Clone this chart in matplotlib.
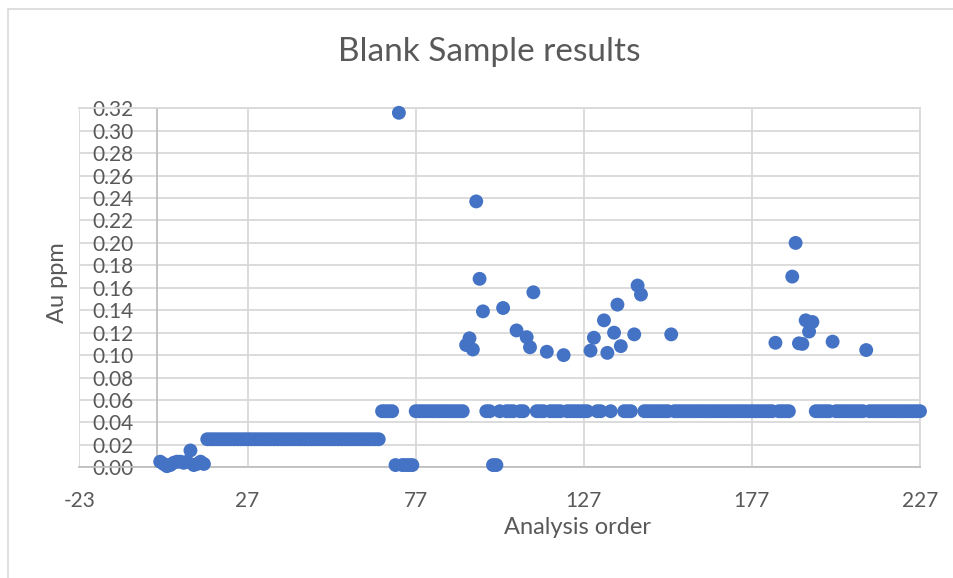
import matplotlib

matplotlib.use("Agg")
import matplotlib.pyplot as plt
import numpy as np
from matplotlib.patches import Rectangle

# Au assays of the blank inserts, in the order they were analysed (1..227)
au_ppm = [
    0.005, 0.003, 0.001, 0.002, 0.004, 0.005, 0.005, 0.004, 0.005, 0.015,   # 1-10
    0.002, 0.003, 0.005, 0.003, 0.025, 0.025, 0.025, 0.025, 0.025, 0.025,   # 11-20
    0.025, 0.025, 0.025, 0.025, 0.025, 0.025, 0.025, 0.025, 0.025, 0.025,   # 21-30
    0.025, 0.025, 0.025, 0.025, 0.025, 0.025, 0.025, 0.025, 0.025, 0.025,   # 31-40
    0.025, 0.025, 0.025, 0.025, 0.025, 0.025, 0.025, 0.025, 0.025, 0.025,   # 41-50
    0.025, 0.025, 0.025, 0.025, 0.025, 0.025, 0.025, 0.025, 0.025, 0.025,   # 51-60
    0.025, 0.025, 0.025, 0.025, 0.025, 0.025, 0.05, 0.05, 0.05, 0.05,       # 61-70
    0.002, 0.316, 0.002, 0.002, 0.002, 0.002, 0.05, 0.05, 0.05, 0.05,       # 71-80
    0.05, 0.05, 0.05, 0.05, 0.05, 0.05, 0.05, 0.05, 0.05, 0.05,             # 81-90
    0.05, 0.109, 0.115, 0.105, 0.237, 0.168, 0.139, 0.05, 0.05, 0.002,      # 91-100
    0.002, 0.05, 0.142, 0.05, 0.05, 0.05, 0.122, 0.05, 0.05, 0.116,         # 101-110
    0.107, 0.156, 0.05, 0.05, 0.05, 0.103, 0.05, 0.05, 0.05, 0.05,          # 111-120
    0.100, 0.05, 0.05, 0.05, 0.05, 0.05, 0.05, 0.05, 0.104, 0.1155,         # 121-130
    0.05, 0.05, 0.131, 0.102, 0.05, 0.120, 0.145, 0.108, 0.05, 0.05,        # 131-140
    0.05, 0.1185, 0.162, 0.154, 0.05, 0.05, 0.05, 0.05, 0.05, 0.05,         # 141-150
    0.05, 0.05, 0.1185, 0.05, 0.05, 0.05, 0.05, 0.05, 0.05, 0.05,           # 151-160
    0.05, 0.05, 0.05, 0.05, 0.05, 0.05, 0.05, 0.05, 0.05, 0.05,             # 161-170
    0.05, 0.05, 0.05, 0.05, 0.05, 0.05, 0.05, 0.05, 0.05, 0.05,             # 171-180
    0.05, 0.05, 0.05, 0.111, 0.05, 0.05, 0.05, 0.05, 0.170, 0.200,          # 181-190
    0.1105, 0.110, 0.131, 0.121, 0.1295, 0.05, 0.05, 0.05, 0.05, 0.05,      # 191-200
    0.112, 0.05, 0.05, 0.05, 0.05, 0.05, 0.05, 0.05, 0.05, 0.05,            # 201-210
    0.1045, 0.05, 0.05, 0.05, 0.05, 0.05, 0.05, 0.05, 0.05, 0.05,           # 211-220
    0.05, 0.05, 0.05, 0.05, 0.05, 0.05, 0.05,                               # 221-227
]
analysis_order = np.arange(1, len(au_ppm) + 1)

x_ticks = [-23, 27, 77, 127, 177, 227]
y_ticks = np.round(np.arange(0, 0.3201, 0.02), 2)

TEXT = "#595959"
GRID = "#D9D9D9"
AXIS = "#BFBFBF"
BLUE = "#4472C4"

plt.rcParams["font.family"] = ["Lato", "DejaVu Sans"]
plt.rcParams["axes.unicode_minus"] = False

fig = plt.figure(figsize=(9.54, 5.78), dpi=100)
# chart frame
fig.patches.append(Rectangle((8 / 954, -0.1), 1.2, 1 - 9 / 578 + 0.1,
                             transform=fig.transFigure, fill=False,
                             edgecolor=GRID, linewidth=1.2))

ax = fig.add_axes([79.5 / 954, 1 - 467.3 / 578, 840.5 / 954, 359 / 578])
ax.scatter(analysis_order, au_ppm, s=100, color=BLUE, edgecolors="none",
           zorder=3, clip_on=False)

ax.set_xlim(-23, 227)
ax.set_ylim(0, 0.32)
ax.set_xticks(x_ticks)
ax.set_yticks(y_ticks, [f"{v:.2f}" for v in y_ticks])
ax.grid(True, color=GRID, linewidth=1.3, zorder=0)
ax.set_axisbelow(True)

# vertical axis crosses at x = 0
ax.spines["left"].set_position(("data", 0))
ax.spines["left"].set_color(AXIS)
ax.spines["bottom"].set_color(AXIS)
for side in ("top", "right"):
    ax.spines[side].set_color(GRID)
for sp in ax.spines.values():
    sp.set_linewidth(1.3)
ax.tick_params(axis="both", length=0, labelsize=15, labelcolor=TEXT)
ax.tick_params(axis="y", pad=17)
ax.tick_params(axis="x", pad=17)

fig.text(489 / 954, 1 - 52 / 578, "Blank Sample results", ha="center",
         va="center", fontsize=24, color=TEXT)
fig.text(578 / 954, 1 - 528 / 578, "Analysis order", ha="center",
         va="center", fontsize=17, color=TEXT)
fig.text(58 / 954, 1 - 283 / 578, "Au ppm", ha="center", va="center",
         rotation=90, fontsize=17, color=TEXT)

fig.savefig("out.png", dpi=100)
